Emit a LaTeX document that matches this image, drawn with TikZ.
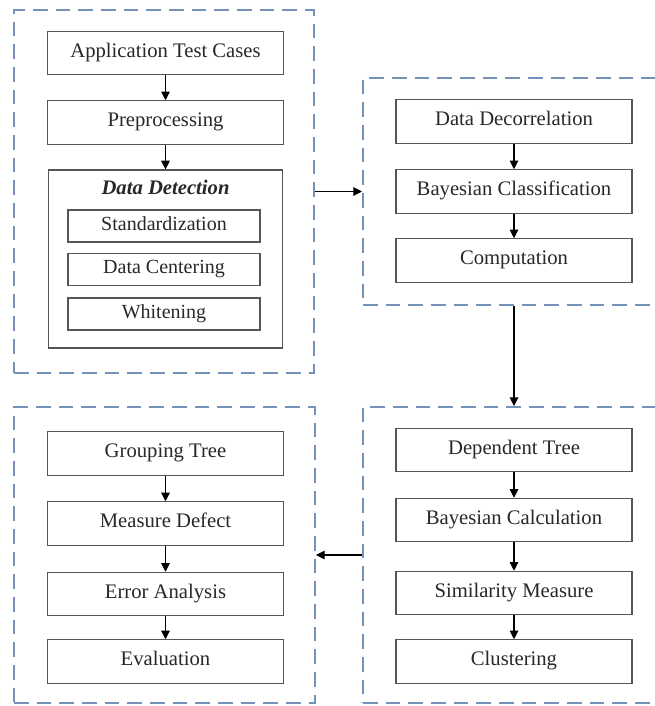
\documentclass[tikz,border=0pt]{standalone}
\usepackage{fontspec}
\setmainfont{Liberation Serif}
\usetikzlibrary{arrows.meta}
\definecolor{dashblue}{RGB}{118,146,186}
\definecolor{boxgray}{RGB}{85,85,85}
\definecolor{textgray}{RGB}{40,40,40}

\begin{document}
\begin{tikzpicture}[x=0.75pt,y=-0.75pt,
        group/.style={draw=dashblue,line width=1.5pt,dash pattern=on 11pt off 6pt,minimum width=#1},
        stepbox/.style={draw=boxgray,line width=0.9pt,fill=white,text=textgray,text height=0.8em,text depth=0.14em,minimum width=177pt,minimum height=32.5pt,font=\fontsize{15.5}{18}\selectfont},
        subbox/.style={draw=boxgray,line width=0.9pt,fill=white,text=textgray,text height=0.8em,text depth=0.14em,minimum width=144pt,minimum height=24pt,font=\fontsize{15}{18}\selectfont},
        flow/.style={draw=black,line width=0.8pt,-{Triangle[length=6.5pt,width=6.5pt]}}]
    \useasboundingbox (0,0) rectangle (654,706);
    % dashed groups
    \node[group=225pt,minimum height=272.25pt] (g1) at (164,191.5) {};
    \node[group=228.75pt,minimum height=170.25pt] (g2) at (515.5,191.5) {};
    \node[group=228.75pt,minimum height=222pt] (g3) at (515.5,555) {};
    \node[group=225.75pt,minimum height=222pt] (g4) at (164.5,555) {};
    % top left
    \node[stepbox] (app) at (165.5,53) {Application Test Cases};
    \node[stepbox] (prep) at (165.5,122.5) {Preprocessing};
    \node[stepbox,minimum width=176pt,minimum height=133.5pt] (detect) at (165.5,259) {};
    \node[text=textgray,font=\fontsize{15.5}{18}\selectfont\bfseries\itshape] (dtitle) at (165.5,187) {Data Detection};
    \node[subbox] (std) at (164,226) {Standardization};
    \node[subbox] (center) at (164,269.5) {Data Centering};
    \node[subbox] (white) at (164,314) {Whitening};
    \draw[flow] (app) -- (prep);
    \draw[flow] (prep) -- (detect);
    % top right
    \node[stepbox] (decor) at (514,121.5) {Data Decorrelation};
    \node[stepbox] (bclass) at (514,191.5) {Bayesian Classification};
    \node[stepbox] (comp) at (514,260.5) {Computation};
    \draw[flow] (decor) -- (bclass);
    \draw[flow] (bclass) -- (comp);
    % bottom right
    \node[stepbox] (dep) at (514,450) {Dependent Tree};
    \node[stepbox] (bcalc) at (514,520) {Bayesian Calculation};
    \node[stepbox] (sim) at (514,593) {Similarity Measure};
    \node[stepbox] (clus) at (514,661.5) {Clustering};
    \draw[flow] (dep) -- (bcalc);
    \draw[flow] (bcalc) -- (sim);
    \draw[flow] (sim) -- (clus);
    % bottom left
    \node[stepbox] (grp) at (165.5,453.5) {Grouping Tree};
    \node[stepbox] (meas) at (165.5,523.5) {Measure Defect};
    \node[stepbox] (err) at (165.5,594) {Error Analysis};
    \node[stepbox] (eval) at (165.5,661.5) {Evaluation};
    \draw[flow] (grp) -- (meas);
    \draw[flow] (meas) -- (err);
    \draw[flow] (err) -- (eval);
    % between groups
    \draw[flow] (g1.east) -- (g2.west);
    \draw[flow] (g2.south -| comp.south) -- (g3.north -| dep.north);
    \draw[flow] (g3.west) -- (g4.east);
\end{tikzpicture}
\end{document}
